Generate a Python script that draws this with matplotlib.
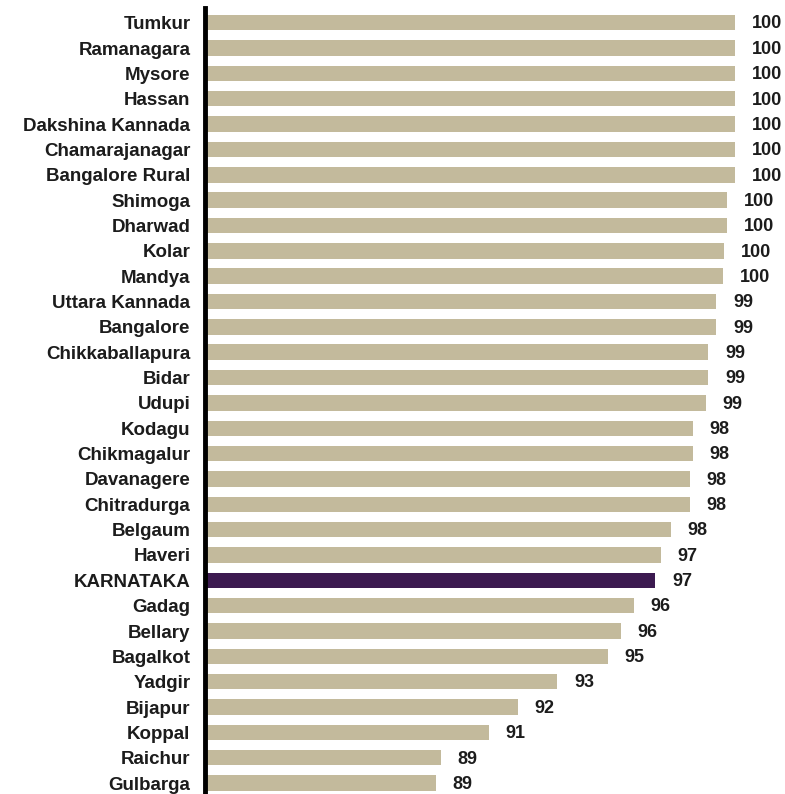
import matplotlib.pyplot as plt

districts = ['Tumkur', 'Ramanagara', 'Mysore', 'Hassan', 'Dakshina Kannada',
             'Chamarajanagar', 'Bangalore Rural', 'Shimoga', 'Dharwad', 'Kolar',
             'Mandya', 'Uttara Kannada', 'Bangalore', 'Chikkaballapura', 'Bidar',
             'Udupi', 'Kodagu', 'Chikmagalur', 'Davanagere', 'Chitradurga',
             'Belgaum', 'Haveri', 'KARNATAKA', 'Gadag', 'Bellary', 'Bagalkot',
             'Yadgir', 'Bijapur', 'Koppal', 'Raichur', 'Gulbarga']
values = [100.0, 100.0, 100.0, 100.0, 100.0, 100.0, 100.0, 99.7, 99.7, 99.6,
          99.55, 99.3, 99.3, 99.0, 99.0, 98.9, 98.4, 98.4, 98.3, 98.3,
          97.6, 97.2, 97.0, 96.2, 95.7, 95.2, 93.3, 91.8, 90.7, 88.9, 88.7]
highlight = 'KARNATAKA'

plt.rcParams['font.family'] = ['Liberation Sans', 'DejaVu Sans']

fig = plt.figure(figsize=(7.85, 7.94), dpi=100)
ax = fig.add_axes([205 / 785, 0, 580 / 785, 786 / 794])

pos = list(range(len(districts)))
colors = ['#3c1a50' if d == highlight else '#c3ba9c' for d in districts]
ax.barh(pos, values, height=0.61, color=colors, left=0)

for y, v in zip(pos, values):
    ax.text(v + 0.62, y + 0.05, '%.0f' % v, va='center', ha='left',
            fontsize=13, fontweight='bold', color='#1c1c1c')

ax.set_xlim(80, 80 + 580 / 26.5)
ax.set_ylim(len(districts) - 1 + 0.43, -0.58)
ax.set_yticks(pos)
ax.set_yticklabels(districts, fontsize=13.5, fontweight='bold', color='#1c1c1c')
ax.tick_params(axis='y', length=0, pad=10.5)
ax.set_xticks([])

for s in ['top', 'right', 'bottom']:
    ax.spines[s].set_visible(False)
ax.spines['left'].set_linewidth(3.5)
ax.spines['left'].set_color('black')

fig.savefig('out.png', dpi=100)
